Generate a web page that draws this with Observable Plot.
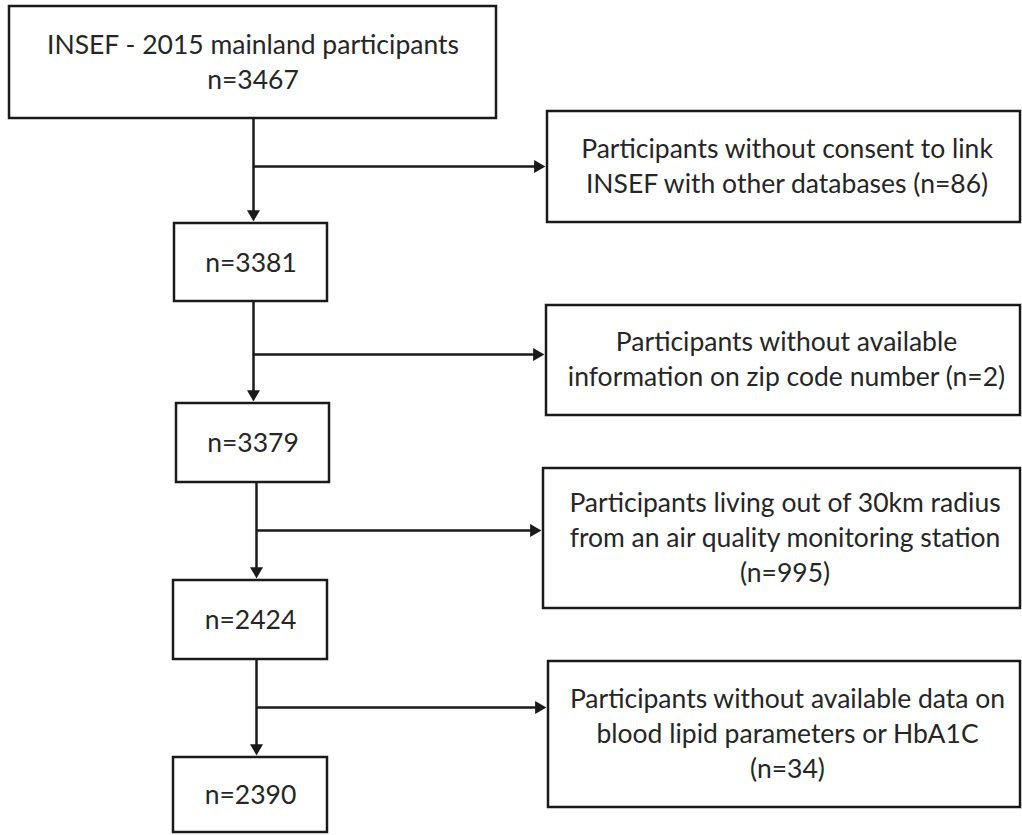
<!DOCTYPE html>
<html>
<head>
<meta charset="utf-8">
<script src="https://cdn.jsdelivr.net/npm/d3@7"></script>
<script src="https://cdn.jsdelivr.net/npm/@observablehq/plot@0.6"></script>
<style>
  html, body { margin: 0; padding: 0; background: #ffffff; }
  #chart svg { display: block; }
</style>
</head>
<body>
<div id="chart"></div>
<script>
// ---- Data (texts and counts of the flow diagram) ----
const stageLabels = [
  "INSEF - 2015 mainland participants\nn=3467",
  "n=3381",
  "n=3379",
  "n=2424",
  "n=2390"
];
const stageCounts = [3467, 3381, 3379, 2424, 2390];
const exclusionLabels = [
  "Participants without consent to link\nINSEF with other databases (n=86)",
  "Participants without available\ninformation on zip code number (n=2)",
  "Participants living out of 30km radius\nfrom an air quality monitoring station\n(n=995)",
  "Participants without available data on\nblood lipid parameters or HbA1C\n(n=34)"
];
const excludedCounts = [86, 2, 995, 34];

// ---- Layout (box geometry, in pixel-like layout units) ----
const W = 1022, H = 835;
const stageBoxes = [
  {x1: 9,   x2: 496, y1: 6,   y2: 118},
  {x1: 174, x2: 327, y1: 223, y2: 301},
  {x1: 176, x2: 329, y1: 403, y2: 482},
  {x1: 173, x2: 327, y1: 580, y2: 659},
  {x1: 173, x2: 327, y1: 757, y2: 832}
];
const exclusionBoxes = [
  {x1: 547, x2: 1020, y1: 111, y2: 222},
  {x1: 546, x2: 1020, y1: 305, y2: 415},
  {x1: 543, x2: 1020, y1: 468, y2: 608},
  {x1: 548, x2: 1020, y1: 661, y2: 807}
];
const trunkX = [253, 253, 256, 256];
const branchY = [166, 354, 530, 707];

const stages = stageLabels.map((label, i) => ({label, count: stageCounts[i], ...stageBoxes[i]}));
const exclusions = exclusionLabels.map((label, i) => ({label, count: excludedCounts[i], ...exclusionBoxes[i]}));

// connectors
const HEAD = 9.6; // centroid-to-tip distance of the triangular heads
const links = [];
const heads = [];
for (let i = 0; i < 4; i++) {
  const from = stages[i], to = stages[i + 1], ex = exclusions[i];
  const tx = trunkX[i], by = branchY[i];
  links.push({x1: tx, y1: from.y2, x2: tx, y2: to.y1 - 6});
  heads.push({x: tx, y: to.y1 - HEAD, rot: 180});
  links.push({x1: tx, y1: by, x2: ex.x1 - 6, y2: by});
  heads.push({x: ex.x1 - HEAD, y: by, rot: 90});
}

const ink = "#1a1a1a";
const txt = "#262626";
const font = "Lato, 'Open Sans', sans-serif";
const fs = 26.5;

const chart = Plot.plot({
  width: W,
  height: H,
  margin: 0,
  x: {domain: [0, W], range: [0, W], axis: null},
  y: {domain: [0, H], range: [0, H], axis: null},
  style: {background: "#ffffff", fontFamily: font},
  marks: [
    Plot.link(links, {x1: "x1", y1: "y1", x2: "x2", y2: "y2", stroke: ink, strokeWidth: 2.5}),
    Plot.dot(heads, {x: "x", y: "y", symbol: "triangle2", rotate: "rot", r: 6.2, fill: ink}),
    Plot.rect(stages, {x1: "x1", x2: "x2", y1: "y1", y2: "y2", fill: "none", stroke: ink, strokeWidth: 2.5}),
    Plot.rect(exclusions, {x1: "x1", x2: "x2", y1: "y1", y2: "y2", fill: "none", stroke: ink, strokeWidth: 2.5}),
    Plot.text(stages, {
      x: d => (d.x1 + d.x2) / 2,
      y: d => (d.y1 + d.y2) / 2,
      text: "label", fontSize: fs, lineHeight: 1.32, fill: txt, fontFamily: font,
      textAnchor: "middle", lineAnchor: "middle", dy: -2
    }),
    Plot.text(exclusions, {
      x: d => (d.x1 + d.x2) / 2 + 3,
      y: d => (d.y1 + d.y2) / 2,
      text: "label", fontSize: fs, lineHeight: 1.32, fill: txt, fontFamily: font,
      textAnchor: "middle", lineAnchor: "middle", dy: -3
    })
  ]
});
document.getElementById("chart").append(chart);
</script>
</body>
</html>
